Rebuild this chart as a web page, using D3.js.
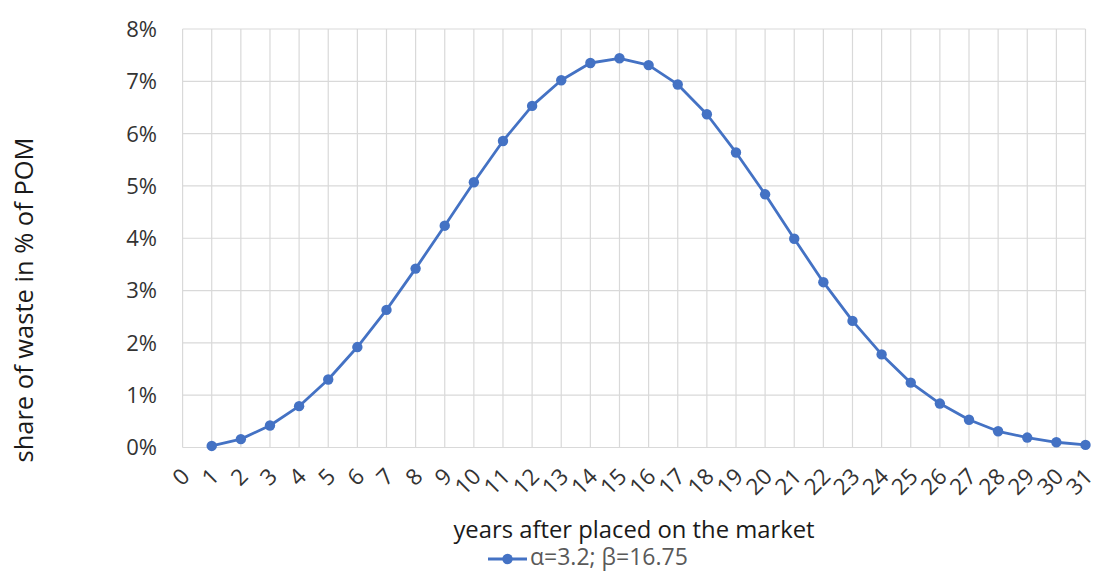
<!DOCTYPE html>
<html>
<head>
<meta charset="utf-8">
<script src="https://cdn.jsdelivr.net/npm/d3@7"></script>
<style>
  html, body { margin: 0; padding: 0; background: #ffffff; }
  svg { display: block; }
  text { font-family: "Open Sans", "Noto Sans", sans-serif; }
</style>
</head>
<body>
<svg id="chart" width="1093" height="571"></svg>
<script>
const years = d3.range(0, 32);
const seriesYears = d3.range(1, 32);
const shareValues = [0.03, 0.16, 0.42, 0.79, 1.30, 1.92, 2.63, 3.42, 4.24, 5.07, 5.86, 6.53, 7.02, 7.35, 7.44, 7.31, 6.94, 6.37, 5.64, 4.84, 3.99, 3.16, 2.42, 1.78, 1.24, 0.84, 0.53, 0.31, 0.19, 0.10, 0.05];
const yTicks = [0, 1, 2, 3, 4, 5, 6, 7, 8];
const seriesName = "α=3.2; β=16.75";
const xTitle = "years after placed on the market";
const yTitle = "share of waste in % of POM";

const svg = d3.select("#chart");
const margin = { left: 182.6, right: 1085.5, top: 29, bottom: 447.5 };

const x = d3.scaleLinear().domain([0, 31]).range([margin.left, margin.right]);
const y = d3.scaleLinear().domain([0, 8]).range([margin.bottom, margin.top]);

const grid = svg.append("g");
grid.selectAll("line.h").data(yTicks).join("line")
  .attr("x1", margin.left).attr("x2", margin.right)
  .attr("y1", d => y(d)).attr("y2", d => y(d))
  .attr("stroke", "#d9d9d9").attr("stroke-width", 1.2);
grid.selectAll("line.v").data(years).join("line")
  .attr("x1", d => x(d)).attr("x2", d => x(d))
  .attr("y1", margin.top).attr("y2", margin.bottom)
  .attr("stroke", "#d9d9d9").attr("stroke-width", 1.2);

svg.append("g").selectAll("text").data(yTicks).join("text")
  .attr("x", 157).attr("y", d => y(d))
  .attr("dy", "0.36em")
  .attr("text-anchor", "end")
  .attr("font-size", 22)
  .attr("fill", "#333333")
  .text(d => d + "%");

svg.append("g").selectAll("text").data(years).join("text")
  .attr("transform", d => `translate(${x(d) + 2.5},${472}) rotate(-45)`)
  .attr("text-anchor", "end")
  .attr("dominant-baseline", "central")
  .attr("font-size", 22.5)
  .attr("fill", "#333333")
  .text(d => d);

const pts = seriesYears.map((d, i) => [d, shareValues[i]]);
svg.append("path")
  .datum(pts)
  .attr("fill", "none")
  .attr("stroke", "#4472C4")
  .attr("stroke-width", 2.8)
  .attr("stroke-linejoin", "round")
  .attr("d", d3.line().x(d => x(d[0])).y(d => y(d[1])));

svg.append("g").selectAll("circle").data(pts).join("circle")
  .attr("cx", d => x(d[0])).attr("cy", d => y(d[1]))
  .attr("r", 5.2)
  .attr("fill", "#4472C4");

svg.append("text")
  .attr("x", 634).attr("y", 538)
  .attr("text-anchor", "middle")
  .attr("font-size", 23.8)
  .attr("fill", "#1a1a1a")
  .text(xTitle);

svg.append("text")
  .attr("transform", "translate(33,300) rotate(-90)")
  .attr("text-anchor", "middle")
  .attr("font-size", 25.5)
  .attr("fill", "#1a1a1a")
  .text(yTitle);

const lg = svg.append("g");
lg.append("line").attr("x1", 488).attr("x2", 527).attr("y1", 559).attr("y2", 559)
  .attr("stroke", "#4472C4").attr("stroke-width", 2.8);
lg.append("circle").attr("cx", 507.5).attr("cy", 559).attr("r", 5.2).attr("fill", "#4472C4");
lg.append("text").attr("x", 530).attr("y", 564.5)
  .attr("font-size", 23).attr("fill", "#595959")
  .text(seriesName);
</script>
</body>
</html>
